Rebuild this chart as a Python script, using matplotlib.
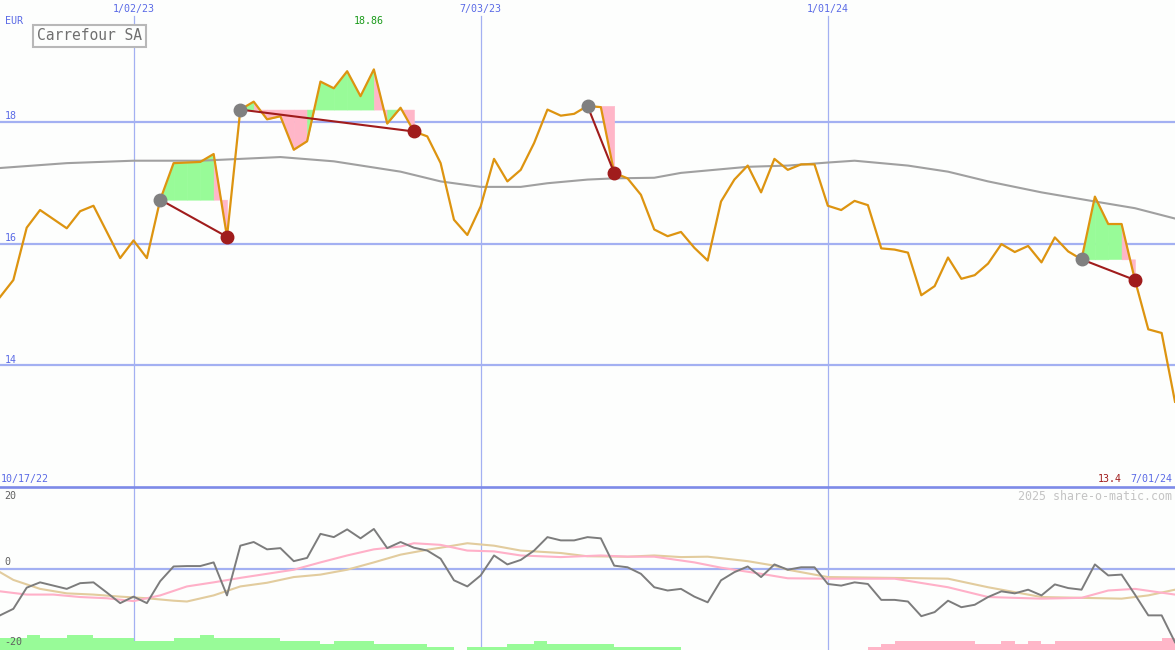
import pandas as pd
import matplotlib.pyplot as plt

# weekly closes, 24 Oct 2022 .. 1 Jul 2024
weeks = pd.date_range("2022-10-24", periods=89, freq="7D")
price = [15.12, 15.40, 16.26, 16.55, 16.40, 16.25, 16.53, 16.62, 16.19, 15.76,
         16.05, 15.76, 16.72, 17.32, 17.33, 17.34, 17.47, 16.11, 18.20, 18.33,
         18.04, 18.09, 17.54, 17.68, 18.66, 18.55, 18.83, 18.42, 18.86, 17.97,
         18.23, 17.84, 17.76, 17.32, 16.39, 16.14, 16.61, 17.39, 17.02, 17.21,
         17.65, 18.20, 18.10, 18.13, 18.26, 18.24, 17.16, 17.07, 16.80, 16.23,
         16.12, 16.19, 15.93, 15.72, 16.69, 17.05, 17.28, 16.84, 17.39, 17.21,
         17.30, 17.30, 16.62, 16.55, 16.70, 16.63, 15.92, 15.90, 15.85, 15.15,
         15.30, 15.77, 15.42, 15.48, 15.67, 15.99, 15.86, 15.96, 15.69, 16.10,
         15.87, 15.74, 16.77, 16.32, 16.32, 15.40, 14.59, 14.53, 13.40]

# long moving average (week number, value)
ma_week = [1, 6, 11, 16, 22, 26, 31, 34, 37, 40, 42, 45, 47, 50, 52, 55, 57, 60,
           63, 65, 69, 72, 75, 79, 83, 86, 89]
ma_val = [17.24, 17.32, 17.36, 17.36, 17.42, 17.35, 17.18, 17.02, 16.93, 16.93,
          16.99, 17.05, 17.07, 17.08, 17.16, 17.22, 17.26, 17.28, 17.33, 17.36,
          17.28, 17.18, 17.02, 16.84, 16.69, 16.58, 16.41]

# trades (entry week, exit week)
entry_week = [13, 19, 45, 82]
exit_week = [18, 32, 47, 86]

# lower panel: oscillator and its two averages
osc = [-11.5, -9.9, -4.7, -3.4, -4.2, -5.0, -3.6, -3.4, -5.9, -8.5,
       -6.9, -8.5, -3.1, 0.5, 0.6, 0.6, 1.5, -6.6, 5.6, 6.5,
       4.7, 5.0, 1.8, 2.6, 8.5, 7.7, 9.6, 7.4, 9.7, 5.0,
       6.5, 5.1, 4.4, 2.4, -2.9, -4.4, -1.7, 3.2, 1.0, 2.1,
       4.4, 7.7, 6.9, 6.9, 7.7, 7.4, 0.7, 0.3, -1.3, -4.6,
       -5.4, -5.0, -6.9, -8.3, -2.9, -0.9, 0.5, -2.1, 1.0, -0.3,
       0.3, 0.3, -3.8, -4.2, -3.4, -3.8, -7.7, -7.7, -8.1, -11.7,
       -10.7, -7.9, -9.5, -8.9, -7.0, -5.6, -6.1, -5.2, -6.6, -3.9,
       -4.8, -5.2, 1.0, -1.7, -1.5, -6.4, -11.5, -11.5, -18.1]

pink_week = [1, 3, 5, 7, 9, 11, 13, 15, 17, 19, 21, 23, 25, 27, 29, 31, 32, 34, 36,
             38, 40, 43, 46, 48, 50, 53, 55, 58, 60, 63, 68, 72, 75, 79, 82, 84, 86, 89]
pink_val = [-5.6, -6.4, -6.4, -7.0, -7.3, -8.0, -6.6, -4.4, -3.4, -2.3, -1.3, -0.3,
            1.5, 3.2, 4.7, 5.4, 6.2, 5.8, 4.4, 4.2, 3.2, 2.8, 3.2, 2.9, 2.9, 1.5,
            0.2, -1.3, -2.4, -2.5, -2.5, -4.6, -7.0, -7.4, -7.2, -5.4, -5.0, -6.4]

tan_week = [1, 2, 4, 6, 8, 10, 12, 14, 15, 17, 19, 21, 23, 25, 27, 29, 31, 33, 34,
            36, 38, 40, 43, 45, 48, 50, 52, 54, 57, 59, 60, 63, 70, 72, 75, 79, 85, 87, 89]
tan_val = [-0.9, -2.8, -5.0, -6.1, -6.4, -6.9, -7.3, -7.9, -8.1, -6.6, -4.4, -3.5,
           -2.1, -1.5, -0.3, 1.5, 3.4, 4.6, 5.1, 6.2, 5.6, 4.4, 3.8, 3.0, 2.9, 3.2,
           2.8, 2.9, 1.8, 0.7, -0.3, -2.1, -2.4, -2.5, -4.6, -7.0, -7.4, -6.6, -5.2]

# bars along the bottom of the lower panel
green_bar_start = 1
green_bars = [2.9, 2.9, 3.7, 2.9, 2.9, 3.7, 3.7, 2.9, 2.9, 2.9, 2.2, 2.2, 2.2,
              2.9, 2.9, 3.7, 2.9, 2.9, 2.9, 2.9, 2.9, 2.2, 2.2, 2.2, 1.5, 2.2,
              2.2, 2.2, 1.5, 1.5, 1.5, 1.5, 0.75, 0.75, 0, 0.75, 0.75, 0.75,
              1.5, 1.5, 2.2, 1.5, 1.5, 1.5, 1.5, 1.5, 0.75, 0.75, 0.75, 0.75, 0.75]
pink_bar_start = 66
pink_bars = [0.75, 1.5, 2.2, 2.2, 2.2, 2.2, 2.2, 2.2, 1.5, 1.5, 2.2, 1.5, 2.2,
             1.5, 2.2, 2.2, 2.2, 2.2, 2.2, 2.2, 2.2, 2.2, 2.9]

grid_dates = ["2023-01-02", "2023-07-03", "2024-01-01"]
grid_labels = ["1/02/23", "7/03/23", "1/01/24"]


def wk(n):
    return weeks[n - 1]


W, H = 1175, 650
fig = plt.figure(figsize=(W / 100, H / 100), dpi=100)
bg = "#fdfefd"
fig.patch.set_facecolor(bg)
ax2 = fig.add_axes([0, 0, 1, 163 / H])
ax = fig.add_axes([0, 163 / H, 1, 487 / H])
for a in (ax, ax2):
    a.patch.set_visible(False)
    a.set_xlim(weeks[0], weeks[-1])
    for s in a.spines.values():
        s.set_visible(False)
    a.set_xticks([])
    a.set_yticks([])

mono = "DejaVu Sans Mono"
blue_txt = "#5a6ae6"
grid_c = "#a3b0f2"

ax.set_ylim(12, 20)
ax2.set_ylim(-20, 20)

# grid
for lvl in (14, 16, 18):
    ax.axhline(lvl, color=grid_c, lw=1.6, zorder=1)
    ax.text(0.004, lvl + 0.01, str(lvl), transform=ax.get_yaxis_transform(),
            fontsize=7.2, family=mono, color=blue_txt, va="bottom", ha="left")
ax.axhline(12, color="#7d8ae8", lw=1.9, zorder=7, clip_on=False)
for d, lab in zip(grid_dates, grid_labels):
    ax.axvline(pd.Timestamp(d), ymin=0, ymax=1 - 16 / 487, color=grid_c, lw=0.9, zorder=1)
    ax2.axvline(pd.Timestamp(d), color=grid_c, lw=0.9, zorder=1)
    ax.text(pd.Timestamp(d), 1 - 9 / 487, lab, transform=ax.get_xaxis_transform(),
            fontsize=7.2, family=mono, color=blue_txt, ha="center", va="center")
ax2.axhline(0, color=grid_c, lw=1.6, zorder=1)

# trade fills
green = "#98fb98"
pink = "#ffb6c8"
for e, x in zip(entry_week, exit_week):
    level = price[e - 1]
    for i in range(e, x):
        col = green if price[i] >= level else pink
        ax.fill_between([wk(i), wk(i + 1)], level, [price[i - 1], price[i]],
                        facecolor=col, edgecolor=col, lw=0.4, zorder=2)

ax.plot([wk(n) for n in ma_week], ma_val, color="#a0a0a0", lw=1.5, zorder=3)
ax.plot(weeks, price, color="#dd9410", lw=1.6, zorder=4)

for e, x in zip(entry_week, exit_week):
    ax.plot([wk(e), wk(x)], [price[e - 1], price[x - 1]], color="#a01c1c", lw=1.5, zorder=5)
    ax.plot(wk(e), price[e - 1], "o", color="#808080", ms=9, zorder=6)
    ax.plot(wk(x), price[x - 1], "o", color="#a01c1c", ms=9, zorder=6)

# labels in the main panel
hi = max(price)
hi_w = price.index(hi) + 1
ax.text(wk(hi_w) - pd.Timedelta(days=2.5), 1 - 21 / 487, f"{hi:.2f}",
        transform=ax.get_xaxis_transform(), fontsize=7.2, family=mono,
        color="#1a9a1a", ha="center", va="center")
ax.text(0.004, 1 - 21 / 487, "EUR", transform=ax.transAxes, fontsize=7.2,
        family=mono, color=blue_txt, ha="left", va="center")
ax.text(0.001, 8 / 487, "10/17/22", transform=ax.transAxes, fontsize=7.2,
        family=mono, color=blue_txt, ha="left", va="center")
ax.text(0.9975, 8 / 487, weeks[-1].strftime("%-m/%d/%y"), transform=ax.transAxes,
        fontsize=7.2, family=mono, color=blue_txt, ha="right", va="center")
ax.text(1 - 53 / W, 8 / 487, f"{price[-1]:.1f}", transform=ax.transAxes,
        fontsize=7.2, family=mono, color="#a01c1c", ha="right", va="center")
ax.text(37 / W, 1 - 36 / 487, "Carrefour SA", transform=ax.transAxes,
        fontsize=10.5, family=mono, color="#707070", ha="left", va="center",
        bbox=dict(boxstyle="square,pad=0.25", fc=bg, ec="#b8b8b8", lw=1.5))

# lower panel
ax2.bar([wk(green_bar_start + i) for i in range(len(green_bars))], green_bars,
        width=7, bottom=-20, align="edge", color=green, lw=0, zorder=2)
ax2.bar([wk(pink_bar_start + i) for i in range(len(pink_bars))], pink_bars,
        width=7, bottom=-20, align="edge", color=pink, lw=0, zorder=2)
ax2.plot([wk(n) for n in tan_week], tan_val, color="#e2cc9e", lw=1.5, zorder=3)
ax2.plot([wk(n) for n in pink_week], pink_val, color="#ffb0c8", lw=1.5, zorder=3)
ax2.plot(weeks, osc, color="#7c7c7c", lw=1.4, zorder=4)

for val, ypix in ((20, 496), (0, 562), (-20, 642)):
    ax2.text(0.004, 1 - (ypix - 487) / 163, str(val), transform=ax2.transAxes,
             fontsize=7.2, family=mono, color="#606060", ha="left", va="center")
ax2.text(0.9975, 1 - 9 / 163, "2025 share-o-matic.com", transform=ax2.transAxes,
         fontsize=8.4, family=mono, color="#c4c4c4", ha="right", va="center")

fig.savefig("out.png", dpi=100, facecolor=bg)
